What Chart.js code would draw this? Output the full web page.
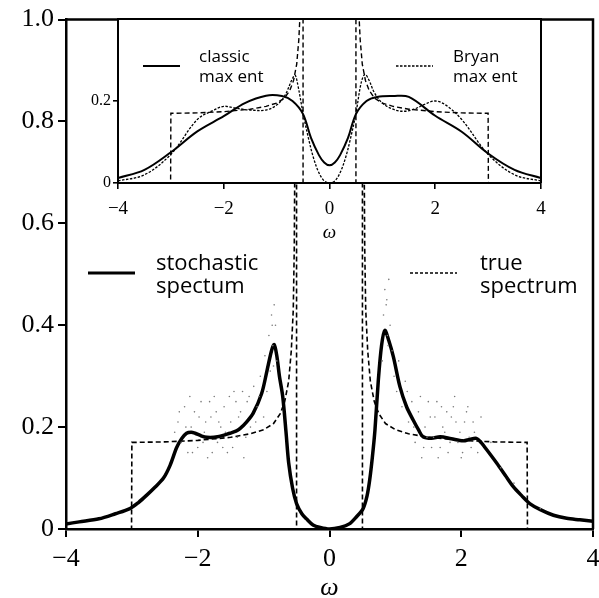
<!DOCTYPE html>
<html>
<head>
<meta charset="utf-8">
<script src="https://cdn.jsdelivr.net/npm/chart.js@4.4.1/dist/chart.umd.min.js"></script>
<style>
  html, body { margin: 0; padding: 0; background: #fff; }
  #wrap { position: relative; width: 599px; height: 598px; }
  #main { position: absolute; left: 0; top: 0; }
  #inset { position: absolute; left: 80px; top: 0; }
</style>
</head>
<body>
<div id="wrap">
  <canvas id="main" width="599" height="598"></canvas>
  <canvas id="inset" width="470" height="250"></canvas>
</div>
<script>
// stochastic spectrum (main, thick solid)
const stochX = [-4, -3.8, -3.5, -3.25, -3.03, -2.9, -2.77, -2.65, -2.52, -2.42, -2.32, -2.24, -2.17, -2.1, -2.04, -1.95, -1.86, -1.7, -1.51, -1.42, -1.36, -1.26, -1.16, -1.03, -0.95, -0.88, -0.84, -0.8, -0.76, -0.71, -0.66, -0.62, -0.56, -0.5, -0.42, -0.35, -0.25, -0.14, 0, 0.16, 0.3, 0.41, 0.51, 0.57, 0.61, 0.65, 0.69, 0.74, 0.79, 0.84, 0.9, 0.97, 1.07, 1.17, 1.27, 1.35, 1.42, 1.55, 1.68, 1.85, 2.03, 2.13, 2.23, 2.3, 2.39, 2.54, 2.67, 2.79, 2.92, 3.04, 3.2, 3.4, 3.6, 3.8, 4];
const stochY = [0.01, 0.014, 0.02, 0.03, 0.04, 0.052, 0.067, 0.082, 0.1, 0.125, 0.16, 0.178, 0.188, 0.19, 0.188, 0.183, 0.18, 0.181, 0.188, 0.192, 0.197, 0.21, 0.227, 0.266, 0.31, 0.35, 0.362, 0.34, 0.3, 0.26, 0.19, 0.13, 0.08, 0.05, 0.03, 0.02, 0.008, 0.003, 0, 0.003, 0.01, 0.024, 0.04, 0.065, 0.096, 0.14, 0.194, 0.29, 0.36, 0.39, 0.37, 0.338, 0.279, 0.24, 0.214, 0.195, 0.181, 0.178, 0.181, 0.177, 0.173, 0.176, 0.178, 0.17, 0.155, 0.129, 0.105, 0.083, 0.065, 0.05, 0.038, 0.027, 0.021, 0.018, 0.015];

// true spectrum (dashed, used in both plots)
const trueX = [-4, -3.005, -3, -2.5, -2, -1.5, -1.2, -1, -0.85, -0.75, -0.68, -0.62, -0.58, -0.55, -0.535, -0.525, -0.505, -0.5, -0.5, 0.5, 0.5, 0.505, 0.525, 0.535, 0.55, 0.58, 0.62, 0.68, 0.75, 0.85, 1, 1.2, 1.5, 2, 2.5, 3, 3.005, 4];
const trueY = [0, 0, 0.17, 0.171, 0.174, 0.18, 0.187, 0.195, 0.207, 0.226, 0.25, 0.29, 0.35, 0.43, 0.55, 0.75, 2, 2, 0, 0, 2, 2, 0.75, 0.55, 0.43, 0.35, 0.29, 0.25, 0.226, 0.207, 0.195, 0.187, 0.18, 0.174, 0.171, 0.17, 0, 0];

// gray sample dots
const dotX = [-2.35, -2.3, -2.25, -2.2, -2.15, -2.12, -2.1, -2.05, -2.0, -1.95, -1.9, -1.88, -1.85, -1.8, -1.75, -1.72, -1.7, -1.65, -1.62, -1.6, -1.55, -1.5, -1.45, -1.42, -1.4, -1.35, -1.3, -1.25, -1.2, -1.15, -1.1, -1.05, -1.0, -0.98, -0.95, -0.92, -0.9, -0.88, -0.86, -0.84, -0.82, -0.8,
  -2.28, -2.18, -2.08, -1.98, -1.92, -1.82, -1.78, -1.68, -1.58, -1.52, -1.47, -1.38, -1.32, -1.27, -1.22, -1.12, -1.07, -0.87, -0.85,
  0.8, 0.82, 0.84, 0.86, 0.88, 0.9, 0.92, 0.95, 0.98, 1.02, 1.05, 1.1, 1.15, 1.2, 1.25, 1.3, 1.35, 1.4, 1.45, 1.48, 1.5, 1.55, 1.6, 1.65, 1.7, 1.72, 1.75, 1.8, 1.85, 1.9, 1.92, 1.95, 2.0, 2.05, 2.1, 2.15, 2.2, 2.3, 2.45, 2.6, 2.8, 3.2,
  0.87, 0.89, 1.18, 1.28, 1.38, 1.43, 1.53, 1.58, 1.63, 1.68, 1.78, 1.83, 1.88, 1.98, 2.02, 2.08, 2.12, 2.18, 2.25];
const dotY = [0.19, 0.21, 0.17, 0.24, 0.15, 0.26, 0.2, 0.23, 0.16, 0.25, 0.19, 0.21, 0.14, 0.22, 0.26, 0.23, 0.17, 0.2, 0.16, 0.24, 0.15, 0.21, 0.27, 0.25, 0.18, 0.23, 0.14, 0.25, 0.2, 0.28, 0.24, 0.3, 0.22, 0.34, 0.27, 0.38, 0.31, 0.42, 0.36, 0.44, 0.4, 0.33,
  0.23, 0.2, 0.15, 0.22, 0.17, 0.25, 0.15, 0.21, 0.19, 0.26, 0.16, 0.22, 0.27, 0.18, 0.26, 0.21, 0.26, 0.4, 0.32,
  0.33, 0.42, 0.47, 0.44, 0.38, 0.49, 0.4, 0.35, 0.3, 0.27, 0.33, 0.24, 0.29, 0.21, 0.25, 0.17, 0.23, 0.14, 0.2, 0.18, 0.25, 0.16, 0.22, 0.14, 0.24, 0.2, 0.19, 0.15, 0.22, 0.26, 0.21, 0.17, 0.14, 0.21, 0.24, 0.16, 0.19, 0.22, 0.17, 0.12, 0.09, 0.04,
  0.45, 0.36, 0.27, 0.2, 0.26, 0.16, 0.22, 0.18, 0.25, 0.16, 0.23, 0.17, 0.24, 0.19, 0.15, 0.23, 0.18, 0.21, 0.15];

// inset: classic and Bryan max ent
const classicX = [-4, -3.5, -3, -2.5, -2, -1.6, -1.2, -0.9, -0.7, -0.5, -0.35, -0.2, -0.1, 0, 0.1, 0.2, 0.35, 0.5, 0.7, 0.9, 1.2, 1.5, 2, 2.5, 3, 3.5, 4];
const classicY = [0.012, 0.032, 0.075, 0.126, 0.163, 0.195, 0.213, 0.212, 0.2, 0.168, 0.11, 0.068, 0.05, 0.043, 0.05, 0.068, 0.11, 0.168, 0.2, 0.21, 0.212, 0.21, 0.164, 0.125, 0.072, 0.032, 0.012];
const bryanX = [-4, -3.5, -3, -2.5, -2.2, -2, -1.8, -1.5, -1.2, -1, -0.85, -0.7, -0.65, -0.6, -0.5, -0.4, -0.3, -0.2, -0.1, 0, 0.1, 0.2, 0.3, 0.4, 0.5, 0.6, 0.67, 0.75, 0.85, 1, 1.2, 1.4, 1.6, 1.8, 2, 2.2, 2.5, 3, 3.5, 4];
const bryanY = [0.005, 0.02, 0.07, 0.155, 0.177, 0.187, 0.183, 0.178, 0.178, 0.19, 0.212, 0.255, 0.263, 0.24, 0.17, 0.11, 0.06, 0.025, 0.005, 0, 0.005, 0.025, 0.06, 0.11, 0.17, 0.245, 0.265, 0.25, 0.22, 0.195, 0.18, 0.175, 0.18, 0.192, 0.2, 0.19, 0.155, 0.07, 0.02, 0.005];

const xTicks = [-4, -2, 0, 2, 4];

const pts = (xs, ys) => xs.map((x, i) => ({ x, y: ys[i] }));
const minus = v => (v < 0 ? '\u2212' + Math.abs(v) : String(v));

Chart.defaults.color = '#000';

const frame = {
  id: 'frame',
  beforeDraw(chart) {
    if (!chart.options.plugins.frame.fill) return;
    const { ctx, chartArea: a } = chart;
    ctx.save();
    ctx.fillStyle = '#fff';
    ctx.fillRect(a.left, a.top, a.right - a.left, a.bottom - a.top);
    ctx.restore();
  },
  afterDraw(chart) {
    const { ctx, chartArea: a } = chart;
    const o = chart.options.plugins.frame;
    ctx.save();
    ctx.strokeStyle = '#000';
    ctx.lineWidth = o.width;
    ctx.beginPath();
    ctx.moveTo(a.left, a.top);
    ctx.lineTo(a.right, a.top);
    ctx.lineTo(a.right, a.bottom);
    ctx.stroke();
    // legend entries
    o.items.forEach(it => {
      ctx.setLineDash(it.dash);
      ctx.lineWidth = it.lw;
      ctx.beginPath();
      ctx.moveTo(it.x0, it.ly);
      ctx.lineTo(it.x1, it.ly);
      ctx.stroke();
      ctx.setLineDash([]);
      ctx.fillStyle = '#000';
      ctx.font = o.font;
      ctx.textBaseline = 'alphabetic';
      ctx.fillText(it.text[0], it.tx, it.b1);
      ctx.fillText(it.text[1], it.tx, it.b2);
    });
    ctx.restore();
  }
};

const noSidePad = s => { s.paddingLeft = 0; s.paddingRight = 0; };

new Chart(document.getElementById('main'), {
  type: 'scatter',
  data: {
    datasets: [
      { data: pts(dotX, dotY), pointRadius: 0.8, pointBackgroundColor: '#7a7a7a', pointBorderWidth: 0 },
      { data: pts(trueX, trueY), showLine: true, borderColor: '#000', borderWidth: 1.6, borderDash: [5, 3], pointRadius: 0, tension: 0 },
      { data: pts(stochX, stochY), showLine: true, borderColor: '#000', borderWidth: 3.5, pointRadius: 0, tension: 0.3 }
    ]
  },
  options: {
    responsive: false,
    devicePixelRatio: 1,
    animation: false,
    layout: { padding: { top: 19, right: 6, left: 0, bottom: 0 } },
    plugins: {
      legend: { display: false },
      tooltip: { enabled: false },
      frame: {
        width: 2.5, fill: false, font: '22px "Open Sans"',
        items: [
          { x0: 88, x1: 135, ly: 273, lw: 3, dash: [], text: ['stochastic', 'spectum'], tx: 156, b1: 270, b2: 293 },
          { x0: 410, x1: 457, ly: 273, lw: 1.5, dash: [3, 2], text: ['true', 'spectrum'], tx: 480, b1: 270, b2: 293 }
        ]
      }
    },
    scales: {
      x: {
        type: 'linear', min: -4, max: 4,
        afterBuildTicks: s => { s.ticks = xTicks.map(v => ({ value: v })); },
        afterFit: s => { s.height = 69; noSidePad(s); },
        ticks: { callback: minus, font: { family: 'Liberation Serif', size: 26 }, padding: 7, maxRotation: 0 },
        grid: { drawOnChartArea: false, tickLength: 8, color: '#000', lineWidth: 2 },
        border: { color: '#000', width: 2.5 },
        title: { display: true, text: 'ω', font: { family: 'Liberation Serif', size: 26, style: 'italic', lineHeight: 1 }, padding: { top: 0, bottom: -3 } }
      },
      y: {
        min: 0, max: 1,
        afterFit: s => { s.width = 66; },
        ticks: { stepSize: 0.2, callback: v => (v === 0 ? '0' : v.toFixed(1)), font: { family: 'Liberation Serif', size: 26 }, padding: 4 },
        grid: { drawOnChartArea: false, tickLength: 8, color: '#000', lineWidth: 2 },
        border: { color: '#000', width: 2.5 }
      }
    }
  },
  plugins: [frame]
});

new Chart(document.getElementById('inset'), {
  type: 'scatter',
  data: {
    datasets: [
      { data: pts(trueX, trueY), showLine: true, borderColor: '#000', borderWidth: 1.4, borderDash: [5, 3], pointRadius: 0, tension: 0 },
      { data: pts(bryanX, bryanY), showLine: true, borderColor: '#000', borderWidth: 1.3, borderDash: [2.5, 1.5], pointRadius: 0, tension: 0.35 },
      { data: pts(classicX, classicY), showLine: true, borderColor: '#000', borderWidth: 2, pointRadius: 0, tension: 0.35 }
    ]
  },
  options: {
    responsive: false,
    devicePixelRatio: 1,
    animation: false,
    layout: { padding: { top: 19, right: 9, left: 0, bottom: 0 } },
    plugins: {
      legend: { display: false },
      tooltip: { enabled: false },
      frame: {
        width: 2, fill: true, font: '17px "Open Sans"',
        items: [
          { x0: 63, x1: 100, ly: 66, lw: 2, dash: [], text: ['classic', 'max ent'], tx: 119, b1: 62, b2: 82 },
          { x0: 316, x1: 353, ly: 66, lw: 1.3, dash: [2.5, 1.5], text: ['Bryan', 'max ent'], tx: 373, b1: 62, b2: 82 }
        ]
      }
    },
    scales: {
      x: {
        type: 'linear', min: -4, max: 4,
        afterBuildTicks: s => { s.ticks = xTicks.map(v => ({ value: v })); },
        afterFit: s => { s.height = 67; noSidePad(s); },
        ticks: { callback: minus, font: { family: 'Liberation Serif', size: 19 }, padding: 9, maxRotation: 0 },
        grid: { drawOnChartArea: false, tickLength: 6, color: '#000', lineWidth: 1.6 },
        border: { color: '#000', width: 2 },
        title: { display: true, text: 'ω', font: { family: 'Liberation Serif', size: 19, style: 'italic', lineHeight: 1 }, padding: { top: 0, bottom: 8 } }
      },
      y: {
        min: 0, max: 0.4,
        afterBuildTicks: s => { s.ticks = [{ value: 0 }, { value: 0.2 }]; },
        afterFit: s => { s.width = 38; },
        ticks: { callback: v => (v === 0 ? '0' : v.toFixed(1)), font: { family: 'Liberation Serif', size: 16 }, padding: 2 },
        grid: { drawOnChartArea: false, tickLength: 5, color: '#000', lineWidth: 1.6 },
        border: { color: '#000', width: 2 }
      }
    }
  },
  plugins: [frame]
});
</script>
</body>
</html>
